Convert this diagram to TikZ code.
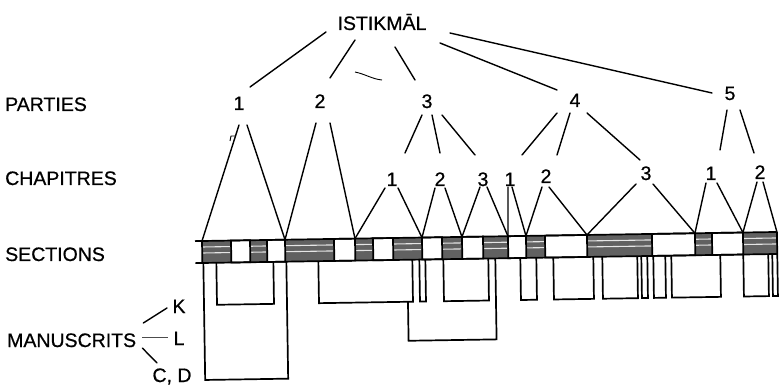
\documentclass[tikz,border=0pt]{standalone}
\usepackage{fontspec}
\setmainfont{Liberation Sans}[FakeBold=0.6]
\usetikzlibrary{calc}
\begin{document}
\begin{tikzpicture}[x=1pt,y=-1pt,
  tree/.style={line width=1.4pt, line cap=round},
  boxline/.style={line width=1.7pt, line join=miter},
  shadefill/.style={fill=black!62},
  streak/.style={draw=gray!20, line width=1.1pt},
  lbl/.style={font=\fontsize{19.5}{20}\selectfont, inner sep=0pt, anchor=base}]
\useasboundingbox (0,0) rectangle (781,387);

% ---------- section bar and manuscripts (slightly tilted as in the scan)
\begin{scope}[rotate around={0.9:(202,241)}]
  \foreach \a/\b in {202/231,250/267,285/334,355/373,393/422,442/462,483/508,526/545,587/652,695/712,743/777}{
    \fill[shadefill] (\a,241) rectangle (\b,263);
    \draw[streak] (\a+1,247) -- (\b-1,247);
    \draw[streak] (\a+1,253) -- (\b-1,253);
  }
  \foreach \a/\b in {231/250,267/285,334/355,373/393,422/442,462/483,508/526,545/587,652/695,712/743}{
    \draw[boxline, fill=white] (\a,241) rectangle (\b,263);
  }
  \draw[boxline] (195,241) -- (777,241) (195,263) -- (777,263)
                 (202,241) -- (202,263) (777,241) -- (777,263);
  \coordinate (s0) at (202,241);
  \coordinate (s1) at (285,241);
  \coordinate (s2) at (355,241);
  \coordinate (s3) at (422,241);
  \coordinate (s4) at (462,241);
  \coordinate (s5) at (508,241);
  \coordinate (s6) at (526,241);
  \coordinate (s7) at (587,241);
  \coordinate (s8) at (695,241);
  \coordinate (s9) at (743,241);
  \coordinate (s10) at (777,241);
  \foreach \a/\b in {216/273,318/412,419/425,443/488,520/536,553/593,602/637,641/647,653/665,671/720,743/768,772/777}{
    \draw[boxline] (\a,263) -- (\a,305) -- (\b,305) -- (\b,263);
  }
  \draw[boxline] (203,263) -- (203,380) -- (286,380) -- (286,263);
  \draw[boxline] (407,305) -- (407,344) -- (495,344) -- (495,263);
\end{scope}

% ---------- texts
\node[lbl] (ist) at (382,30) {ISTIKMĀL};
\node[lbl] (p1) at (239,110) {1};
\node[lbl] (p2) at (320,108) {2};
\node[lbl] (p3) at (427,108) {3};
\node[lbl] (p4) at (575,107) {4};
\node[lbl] (p5) at (730,100) {5};
\node[lbl] (c31) at (392,186) {1};
\node[lbl] (c32) at (440,186) {2};
\node[lbl] (c33) at (483,186) {3};
\node[lbl] (c41) at (510,186) {1};
\node[lbl] (c42) at (546,183) {2};
\node[lbl] (c43) at (646,180) {3};
\node[lbl] (c51) at (711,180) {1};
\node[lbl] (c52) at (760,179) {2};

\node[lbl, anchor=base west] (parties) at (5,111) {PARTIES};
\node[lbl, anchor=base west] (chap) at (5,185) {CHAPITRES};
\node[lbl, anchor=base west] (sect) at (5,261) {SECTIONS};
\node[lbl, anchor=base west] (man) at (7,347) {MANUSCRITS};
\node[lbl] (mk) at (179,313) {K};
\node[lbl] (ml) at (179,345) {L};
\node[lbl] (mcd) at (172,382) {C, D};

% ---------- root to parts
\draw[tree] ($(ist.base)+(-56,2)$) -- ($(p1.base)+(11,-23)$);
\draw[tree] ($(ist.base)+(-27,10)$) -- ($(p2.base)+(10,-30)$);
\draw[tree] ($(ist.base)+(13,17)$) -- ($(p3.base)+(-12,-28)$);
\draw[tree] ($(ist.base)+(58,13)$) -- ($(p4.base)+(-18,-17)$);
\draw[tree] ($(ist.base)+(68,3)$) -- ($(p5.base)+(-18,-7)$);
\draw[line width=0.9pt] ($(ist.base)+(-27,42)$) .. controls ($(ist.base)+(-17,44)$) and ($(ist.base)+(-10,49)$) .. ($(ist.base)+(0,50)$);

% ---------- parts without chapters
\draw[tree] ($(p1.base)+(0,15)$) -- (s0);
\draw[tree] ($(p1.base)+(8,15)$) -- (s1);
\draw[line width=0.9pt] ($(p1.base)+(-9,31)$) -- ($(p1.base)+(-8,26)$) -- ($(p1.base)+(-3,26)$);
\draw[tree] ($(p2.base)+(-4,15)$) -- (s1);
\draw[tree] ($(p2.base)+(10,15)$) -- (s2);

% ---------- parts to chapters
\draw[tree] ($(p3.base)+(-5,7)$) -- ($(c31.base)+(13,-33)$);
\draw[tree] ($(p3.base)+(5,7)$) -- ($(c32.base)+(0,-33)$);
\draw[tree] ($(p3.base)+(15,7)$) -- ($(c33.base)+(-8,-31)$);
\draw[tree] ($(p4.base)+(-18,6)$) -- ($(c41.base)+(12,-31)$);
\draw[tree] ($(p4.base)+(-5,6)$) -- ($(c42.base)+(11,-28)$);
\draw[tree] ($(p4.base)+(12,6)$) -- ($(c43.base)+(-6,-20)$);
\draw[tree] ($(p5.base)+(-3,10)$) -- ($(c51.base)+(9,-30)$);
\draw[tree] ($(p5.base)+(10,10)$) -- ($(c52.base)+(-6,-26)$);

% ---------- chapters to sections
\draw[tree] ($(c31.base)+(-7,2)$) -- (s2);
\draw[tree] ($(c31.base)+(6,2)$) -- (s3);
\draw[tree] ($(c32.base)+(-5,2)$) -- (s3);
\draw[tree] ($(c32.base)+(5,2)$) -- (s4);
\draw[tree] ($(c33.base)+(-3,1)$) -- (s4);
\draw[tree] ($(c33.base)+(4,1)$) -- (s5);
\draw[tree] ($(c41.base)+(-2,1)$) -- (s5);
\draw[tree] ($(c41.base)+(2,1)$) -- (s6);
\draw[tree] ($(c42.base)+(-4,4)$) -- (s6);
\draw[tree] ($(c42.base)+(3,4)$) -- (s7);
\draw[tree] ($(c43.base)+(-10,4)$) -- (s7);
\draw[tree] ($(c43.base)+(7,4)$) -- (s8);
\draw[tree] ($(c51.base)+(-5,3)$) -- (s8);
\draw[tree] ($(c51.base)+(6,3)$) -- (s9);
\draw[tree] ($(c52.base)+(-3,3)$) -- (s9);
\draw[tree] ($(c52.base)+(3,3)$) -- (s10);

% ---------- manuscripts
\draw[tree] ($(man.base east)+(7,-24)$) -- ($(mk.base)+(-12,-5)$);
\draw[line width=1pt, black!70] ($(man.base east)+(6,-10)$) -- ($(ml.base)+(-11,-8)$);
\draw[tree] ($(man.base east)+(6,1)$) -- ($(mcd.base)+(-15,-19)$);
\end{tikzpicture}
\end{document}
